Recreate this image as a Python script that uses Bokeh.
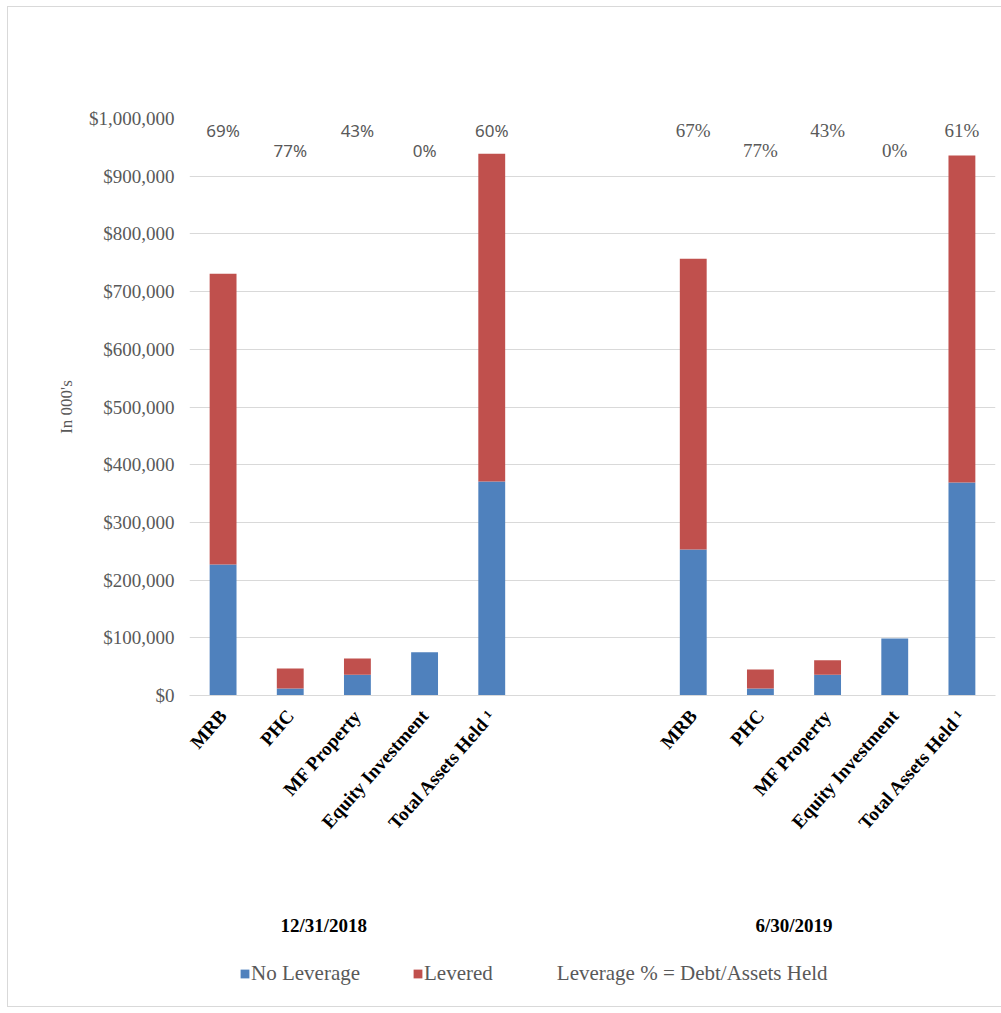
from bokeh.plotting import figure
from bokeh.layouts import column
from bokeh.models import (ColumnDataSource, FactorRange, Range1d, Legend, LegendItem,
                          NumeralTickFormatter, FixedTicker, InlineStyleSheet)
from bokeh.core.properties import value
from bokeh.embed import file_html
from bokeh.resources import INLINE

# ---- data ----
dates = ["12/31/2018", "6/30/2019"]
categories = ["MRB", "PHC", "MF Property", "Equity Investment", "Total Assets Held \u00b9"]
no_leverage_2018 = [227000, 12000, 36000, 75000, 371000]
levered_2018 = [504000, 35000, 28000, 0, 568000]
no_leverage_2019 = [253000, 12000, 36000, 99000, 369000]
levered_2019 = [504000, 33000, 25000, 0, 567000]
leverage_pct_2018 = ["69%", "77%", "43%", "0%", "60%"]
leverage_pct_2019 = ["67%", "77%", "43%", "0%", "61%"]
y_ticks = [0, 100000, 200000, 300000, 400000, 500000, 600000, 700000, 800000, 900000, 1000000]
legend_labels = ["No Leverage", "Levered", "Leverage % = Debt/Assets Held"]

BLUE = "#4F81BD"
RED = "#C0504D"
GRAY_TXT = "#595959"
GRID = "#D9D9D9"
SERIF = "Liberation Serif"

# factors: group 1, two blank spacer slots, group 2 (zero-width space keeps names unique)
f18 = list(categories)
f19 = [c + "\u200b" for c in categories]
gaps = [" ", "  "]
factors = f18 + gaps + f19
x_range = FactorRange(factors=factors, range_padding=0)

source = ColumnDataSource(dict(
    x=f18 + f19,
    no_lev=no_leverage_2018 + no_leverage_2019,
    lev=levered_2018 + levered_2019,
))

p = figure(width=1001, height=876, x_range=x_range,
           y_range=Range1d(0, 1000000), output_backend="svg", toolbar_location=None,
           min_border_left=189, min_border_right=6, min_border_top=118, min_border_bottom=181)
p.outline_line_color = None
p.border_fill_color = None
p.background_fill_color = None

renderers = p.vbar_stack(["no_lev", "lev"], x="x", width=0.4, source=source,
                         color=[BLUE, RED], line_color=None)

# percentage labels (staggered like the original)
hi, lo = 980000, 944000
def pct_src(fac, labels):
    return ColumnDataSource(dict(x=fac, y=[hi if i % 2 == 0 else lo for i in range(len(fac))], t=labels))

p.text(x="x", y="y", text="t", source=pct_src(f18, leverage_pct_2018),
       text_font=value("Noto Sans"), text_font_size="17px", text_color=GRAY_TXT,
       text_align="center", text_baseline="middle")
p.text(x="x", y="y", text="t", source=pct_src(f19, leverage_pct_2019),
       text_font=value(SERIF), text_font_size="19px", text_color=GRAY_TXT,
       text_align="center", text_baseline="middle")

# axes
p.yaxis.ticker = FixedTicker(ticks=y_ticks)
p.yaxis.formatter = NumeralTickFormatter(format="$0,0")
p.yaxis.axis_line_color = None
p.yaxis.major_tick_line_color = None
p.yaxis.minor_tick_line_color = None
p.yaxis.major_tick_out = 0
p.yaxis.major_tick_in = 0
p.yaxis.major_label_standoff = 15
p.yaxis.major_label_text_font = SERIF
p.yaxis.major_label_text_font_size = "19px"
p.yaxis.major_label_text_color = GRAY_TXT
p.yaxis.axis_label = "In 000's"
p.yaxis.axis_label_text_font = SERIF
p.yaxis.axis_label_text_font_style = "normal"
p.yaxis.axis_label_text_font_size = "17px"
p.yaxis.axis_label_text_color = GRAY_TXT
p.yaxis.axis_label_standoff = 10

p.xaxis.major_label_orientation = 0.85
p.xaxis.axis_line_color = GRID
p.xaxis.major_tick_line_color = None
p.xaxis.minor_tick_line_color = None
p.xaxis.major_tick_out = 0
p.xaxis.major_tick_in = 0
p.xaxis.major_label_standoff = 17
p.xaxis.major_label_text_font = SERIF
p.xaxis.major_label_text_font_style = "bold"
p.xaxis.major_label_text_font_size = "19px"
p.xaxis.major_label_text_color = "#000000"

p.xgrid.grid_line_color = None
p.ygrid.grid_line_color = GRID
p.ygrid.grid_line_width = 1

# ---- bottom strip: date group labels and legend ----
q = figure(width=1001, height=129, x_range=x_range, y_range=Range1d(129, 0),
           output_backend="svg", toolbar_location=None,
           min_border_left=189, min_border_right=6, min_border_top=0, min_border_bottom=0)
q.axis.visible = False
q.grid.grid_line_color = None
q.outline_line_color = None
q.border_fill_color = None
q.background_fill_color = None

n = len(categories)
starts = [0, n + len(gaps)]
q.text(x=[s + n / 2 - 0.5 for s in starts], y=[49, 49], text=dates,
       text_font=value(SERIF), text_font_style="bold", text_font_size="19px",
       text_color="#000000", text_align="center", text_baseline="middle")

# legend swatches: zero-height bars (invisible in the strip) that carry the series colours
lr_blue = q.vbar(x=[gaps[0]], top=[0], bottom=[0], width=0.4, color=BLUE, line_color=None)
lr_red = q.vbar(x=[gaps[0]], top=[0], bottom=[0], width=0.4, color=RED, line_color=None)
lr_none = q.scatter(x=[gaps[0]], y=[0], fill_alpha=0, line_alpha=0)
legend = Legend(items=[LegendItem(label=legend_labels[0], renderers=[lr_blue]),
                       LegendItem(label=legend_labels[1], renderers=[lr_red]),
                       LegendItem(label=legend_labels[2], renderers=[lr_none])],
                orientation="horizontal", location=(50, 19),
                glyph_width=11, glyph_height=11, label_standoff=1, spacing=52,
                label_text_font=SERIF, label_text_font_size="21px", label_text_color=GRAY_TXT,
                border_line_color=None, background_fill_alpha=0, padding=0, margin=0)
q.add_layout(legend, "center")

border_css = InlineStyleSheet(css="""
:host::after { content: ''; position: absolute; left: 7px; top: 6px; right: 0px; height: 1001px;
               box-sizing: border-box;
               border-left: 1px solid #d9d9d9; border-top: 1px solid #d9d9d9;
               border-bottom: 1px solid #d9d9d9; pointer-events: none; }
""")
layout = column(p, q, spacing=0, stylesheets=[border_css])

open("out.html", "w").write(file_html(layout, INLINE))
